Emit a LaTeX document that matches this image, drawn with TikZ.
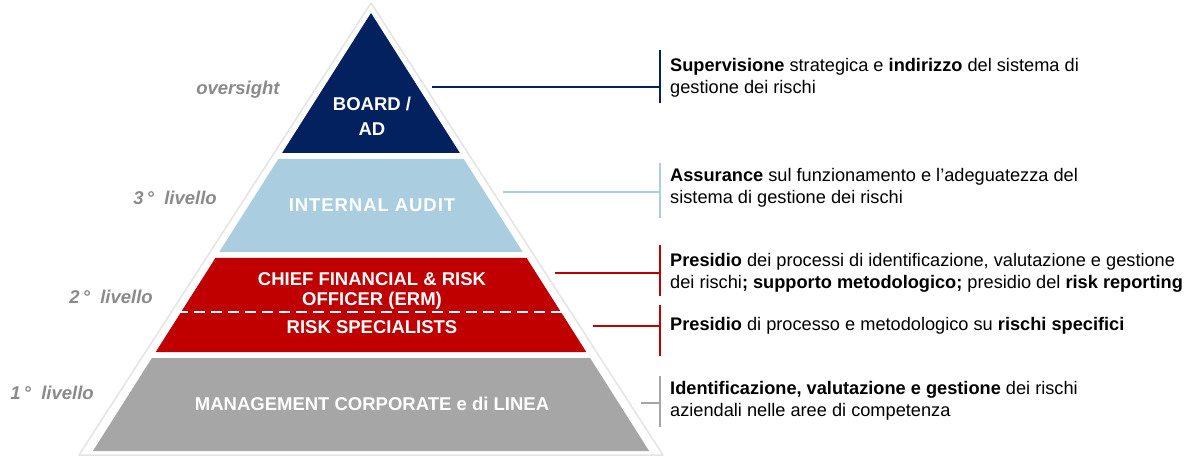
\documentclass[tikz,border=0pt]{standalone}
\usepackage{fontspec}
\setmainfont{Liberation Sans}
\definecolor{navy}{HTML}{03215F}
\definecolor{lblue}{HTML}{AACEDF}
\definecolor{rred}{HTML}{C00000}
\definecolor{ggrey}{HTML}{A6A6A6}
\definecolor{lvl}{HTML}{8A8A8A}
\definecolor{faint}{HTML}{E4E4E4}
\begin{document}
\begin{tikzpicture}[x=1pt,y=-1pt,
  bandtxt/.style={text=white,font=\fontsize{18.5}{20}\selectfont\bfseries,align=center,inner sep=0pt},
  lvltxt/.style={text=lvl,font=\fontsize{18.5}{20}\selectfont\bfseries\itshape,inner sep=0pt},
  desc/.style={anchor=west,font=\fontsize{18.2}{22}\selectfont,align=left,inner sep=0pt,text=black},
  conn/.style={line width=1.6pt}]
\useasboundingbox (0,0) rectangle (1192,457);
% faint outline
\draw[faint,line width=1.5pt,line join=round] (371,3) -- (663,455) -- (79,455) -- cycle;
% bands
\fill[navy] (371,13) -- (459.9,153) -- (282.1,153) -- cycle;
\fill[lblue] (278.3,159) -- (463.7,159) -- (522.8,252) -- (219.2,252) -- cycle;
\fill[rred] (215.4,258) -- (526.6,258) -- (586.3,352) -- (155.7,352) -- cycle;
\fill[ggrey] (151.9,358) -- (590.1,358) -- (649.1,451) -- (92.9,451) -- cycle;
\draw[white,line width=2pt,dash pattern=on 11pt off 6pt] (177,312) -- (565,312);
% band labels
\node[bandtxt] (board) at (372,116) {BOARD /\\[5pt]AD};
\node[bandtxt,font=\fontsize{18.5}{20}\selectfont\bfseries\addfontfeature{LetterSpace=5}] (audit) at (372,205) {INTERNAL AUDIT};
\node[bandtxt] (cfo) at (372,291) {CHIEF FINANCIAL \& RISK\\OFFICER (ERM)};
\node[bandtxt] (spec) at (372,327) {RISK SPECIALISTS};
\node[bandtxt] (mgmt) at (372,404) {MANAGEMENT CORPORATE e di LINEA};
% level labels
\node[lvltxt] (l0) at (238,90) {oversight};
\node[lvltxt] (l3) at (175,198) {3\,°\ \ livello};
\node[lvltxt] (l2) at (111,297) {2\,°\ \ livello};
\node[lvltxt] (l1) at (52,393) {1\,°\ \ livello};
% descriptions
\node[desc] (d0) at (670,78) {\textbf{Supervisione} strategica e \textbf{indirizzo} del sistema di\\gestione dei rischi};
\node[desc] (d3) at (670,188) {\textbf{Assurance} sul funzionamento e l’adeguatezza del\\sistema di gestione dei rischi};
\node[desc] (d2a) at (670,273) {\textbf{Presidio} dei processi di identificazione, valutazione  e gestione\\dei rischi\textbf{; supporto metodologico;} presidio del \textbf{risk reporting}};
\node[desc] (d2b) at (670,326) {\textbf{Presidio} di processo e metodologico su \textbf{rischi specifici}};
\node[desc] (d1) at (670,401) {\textbf{Identificazione, valutazione e gestione} dei rischi\\aziendali nelle aree di competenza};
% connectors
\coordinate (s0) at (432,87);  \coordinate (b0) at (660,87);
\coordinate (s3) at (503,192); \coordinate (b3) at (660,192);
\coordinate (s2a) at (555,273); \coordinate (b2a) at (660,273);
\coordinate (s2b) at (593,326); \coordinate (b2b) at (660,326);
\coordinate (s1) at (641,403); \coordinate (b1) at (660,403);
\draw[conn,navy] (s0) -- (b0); \draw[conn,navy] (660,50) -- (660,103);
\draw[conn,lblue] (s3) -- (b3); \draw[conn,lblue] (660,163) -- (660,218);
\draw[conn,rred] (s2a) -- (b2a); \draw[conn,rred] (660,245) -- (660,296);
\draw[conn,rred] (s2b) -- (b2b); \draw[conn,rred] (660,305) -- (660,356);
\draw[conn,ggrey] (s1) -- (b1); \draw[conn,ggrey] (660,376) -- (660,427);
\end{tikzpicture}
\end{document}
